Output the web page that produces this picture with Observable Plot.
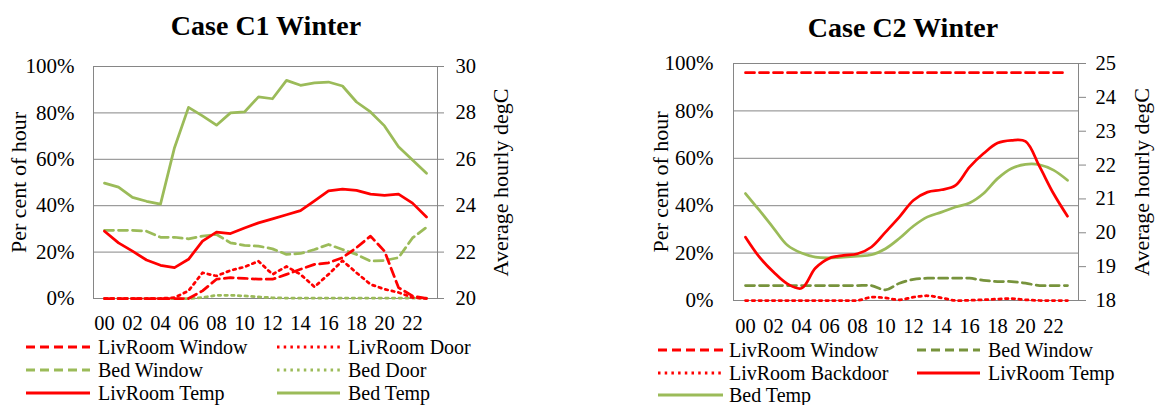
<!DOCTYPE html>
<html><head><meta charset="utf-8">
<script src="https://cdn.jsdelivr.net/npm/d3@7"></script>
<script src="https://cdn.jsdelivr.net/npm/@observablehq/plot@0.6"></script>
<style>
body{margin:0;background:#fff;}
#root{position:relative;width:1155px;height:405px;overflow:hidden;background:#fff;}
#root svg, #root svg text{font-family:"Liberation Serif","Times New Roman",serif !important;}
</style></head><body><div id="root"></div>
<script>
// ---------- data ----------
const hours = ["00","01","02","03","04","05","06","07","08","09","10","11","12","13","14","15","16","17","18","19","20","21","22","23"];
const hourTicks = ["00","02","04","06","08","10","12","14","16","18","20","22"];
const pctTicks = [0,20,40,60,80,100];
const c1TempTicks = [20,22,24,26,28,30];
const c2TempTicks = [18,19,20,21,22,23,24,25];

// Case C1 Winter (per cent of hour)
const c1LivRoomWindow = [0,0,0,0,0,0,0,3.3,8.3,9,8.7,8.3,8.3,10.4,12.6,14.7,15.4,17.6,21.9,26.9,20.4,4.7,1.1,0];
const c1LivRoomDoor   = [0,0,0,0,0,0.4,3.3,11.1,9.7,12.1,13.6,16.1,10.4,13.8,10.4,5,10.4,16.3,11.1,6.1,4,2.6,0.4,0];
const c1BedWindow     = [29.4,29.4,29.4,29,26.4,26.4,25.7,26.9,27.6,24,22.9,22.6,21.4,19,19.4,21.1,23.3,21.1,19,16.1,16.4,17.6,26.1,30.7];
const c1BedDoor       = [0,0,0,0,0,0,0,0.4,1.4,1.4,1.1,0.7,0.3,0.2,0.2,0.2,0.2,0.2,0.2,0.2,0.2,0.2,0.2,0.2];
// Case C1 Winter (degC)
const c1LivRoomTemp = [22.9,22.4,22.04,21.66,21.43,21.33,21.69,22.47,22.86,22.8,23.04,23.26,23.43,23.61,23.79,24.21,24.64,24.71,24.66,24.5,24.44,24.5,24.11,23.51];
const c1BedTemp     = [24.97,24.8,24.36,24.19,24.07,26.5,28.24,27.87,27.47,28.0,28.04,28.69,28.61,29.4,29.19,29.29,29.33,29.16,28.47,28.04,27.44,26.54,25.97,25.4];

// Case C2 Winter (per cent of hour)
const c2LivRoomWindow   = [96.1,96.1,96.1,96.1,96.1,96.1,96.1,96.1,96.1,96.1,96.1,96.1,96.1,96.1,96.1,96.1,96.1,96.1,96.1,96.1,96.1,96.1,96.1,96.1];
const c2BedWindow       = [6.3,6.3,6.3,6.3,6.3,6.3,6.3,6.3,6.3,6.3,4.5,7.3,8.9,9.4,9.4,9.4,9.4,8.5,8,8,7.3,6.3,6.3,6.3];
const c2LivRoomBackdoor = [0,0,0,0,0,0,0,0,0,1.4,1.1,0.3,1.4,2,1.1,0,0.1,0.3,0.6,0.8,0.3,0,0,0];
// Case C2 Winter (degC)
const c2LivRoomTemp = [19.87,19.28,18.84,18.49,18.36,18.96,19.25,19.33,19.38,19.58,20.02,20.47,20.96,21.2,21.27,21.4,21.94,22.34,22.65,22.73,22.7,21.96,21.16,20.49];
const c2BedTemp     = [21.16,20.66,20.14,19.63,19.4,19.28,19.26,19.28,19.31,19.35,19.53,19.84,20.2,20.47,20.61,20.76,20.88,21.16,21.6,21.9,22.02,22.01,21.85,21.55];

// ---------- styles ----------
const FONT = '"Liberation Serif", "Times New Roman", serif';
const RED = "#FF0000", GREEN = "#9BBB59", DKGREEN = "#77933C", GRID = "#868686";
const DASH = "9,5", DOT = "2.5,4.2";
const root = document.getElementById("root");

function place(el, left, top) {
  el.style.position = "absolute";
  el.style.left = left + "px";
  el.style.top = top + "px";
  root.appendChild(el);
}
function lineMark(values, stroke, dash, curve) {
  return Plot.line(values, {x: (d, i) => hours[i], y: d => d, stroke, strokeWidth: 2.75,
    strokeDasharray: dash, curve, strokeLinejoin: "round"});
}
const svgStyle = {background: "transparent", fontFamily: FONT, fontSize: "20px", color: "#000", overflow: "visible"};

function makeChart(cfg) {
  const dims = {width: cfg.W, height: cfg.H, marginLeft: cfg.mL, marginRight: cfg.mR, marginTop: cfg.mT, marginBottom: cfg.mB};
  const pct = Plot.plot({
    ...dims, style: svgStyle,
    x: {type: "point", domain: hours, padding: 0.5},
    y: {domain: [0, 100]},
    marks: [
      Plot.ruleY(pctTicks, {stroke: GRID, strokeWidth: 1}),
      Plot.frame({stroke: GRID, strokeWidth: 1}),
      Plot.axisY(pctTicks, {anchor: "left", tickSize: 0, tickPadding: cfg.yPad, tickFormat: d => d + "%", label: null, fontFamily: FONT, fontSize: 21}),
      Plot.axisX(hourTicks, {anchor: "bottom", tickSize: 0, tickPadding: cfg.xPad, label: null, fontFamily: FONT, fontSize: 20.5}),
      Plot.text(["Per cent of hour"], {text: d => d, frameAnchor: "left", textAnchor: "middle", dx: cfg.lTitleDx, rotate: -90, fontSize: 22, fontFamily: FONT}),
      ...cfg.pctLines
    ]
  });
  const temp = Plot.plot({
    ...dims, style: svgStyle,
    x: {type: "point", domain: hours, padding: 0.5, axis: null},
    y: {domain: cfg.tDomain},
    marks: [
      Plot.axisY(cfg.tTicks, {anchor: "right", tickSize: cfg.rTick, tickPadding: cfg.rPad, stroke: GRID, tickFormat: d => String(d), label: null, fontFamily: FONT, fontSize: 20.5}),
      Plot.text(["Average hourly degC"], {text: d => d, frameAnchor: "right", textAnchor: "middle", dx: cfg.rTitleDx, rotate: -90, fontSize: 22, fontFamily: FONT}),
      ...cfg.tempLines
    ]
  });
  place(pct, cfg.left, 0);
  place(temp, cfg.left, 0);
}

makeChart({
  left: 0, W: 560, H: 340, mL: 93, mR: 123, mT: 66, mB: 42,
  yPad: 19, xPad: 17, rTick: 6, rPad: 12, lTitleDx: -75, rTitleDx: 63,
  tDomain: [20, 30], tTicks: c1TempTicks,
  pctLines: [
    lineMark(c1BedDoor, GREEN, DOT, "linear"),
    lineMark(c1BedWindow, GREEN, DASH, "linear"),
    lineMark(c1LivRoomDoor, RED, DOT, "linear"),
    lineMark(c1LivRoomWindow, RED, DASH, "linear")
  ],
  tempLines: [
    lineMark(c1LivRoomTemp, RED, null, "linear"),
    lineMark(c1BedTemp, GREEN, null, "linear")
  ]
});

makeChart({
  left: 580, W: 575, H: 340, mL: 153, mR: 77, mT: 63, mB: 40,
  yPad: 20, xPad: 18, rTick: 7, rPad: 10, lTitleDx: -73, rTitleDx: 63,
  tDomain: [18, 25], tTicks: c2TempTicks,
  pctLines: [
    lineMark(c2LivRoomBackdoor, RED, DOT, "catmull-rom"),
    lineMark(c2BedWindow, DKGREEN, DASH, "catmull-rom"),
    lineMark(c2LivRoomWindow, RED, DASH, "linear")
  ],
  tempLines: [
    lineMark(c2BedTemp, GREEN, null, "catmull-rom"),
    lineMark(c2LivRoomTemp, RED, null, "catmull-rom")
  ]
});

// ---------- titles ----------
const titles = [
  {text: "Case C1 Winter", x: 266, y: 34.5},
  {text: "Case C2 Winter", x: 903, y: 36.5}
];
const head = d3.create("svg").attr("width", 1155).attr("height", 50);
head.selectAll("text").data(titles).join("text")
  .attr("x", d => d.x).attr("y", d => d.y).attr("text-anchor", "middle")
  .attr("font-family", FONT).attr("font-weight", "bold").attr("font-size", 28).attr("fill", "#000")
  .text(d => d.text);
place(head.node(), 0, 0);

// ---------- legends ----------
const legendItems = [
  {name: "LivRoom Window", color: RED, dash: DASH, x1: 26, x2: 90, tx: 98, y: 347},
  {name: "LivRoom Door", color: RED, dash: DOT, x1: 277, x2: 340, tx: 348, y: 347},
  {name: "Bed Window", color: GREEN, dash: DASH, x1: 26, x2: 90, tx: 98, y: 370},
  {name: "Bed Door", color: GREEN, dash: DOT, x1: 277, x2: 340, tx: 348, y: 370},
  {name: "LivRoom Temp", color: RED, dash: null, x1: 26, x2: 90, tx: 98, y: 393},
  {name: "Bed Temp", color: GREEN, dash: null, x1: 277, x2: 340, tx: 348, y: 393},
  {name: "LivRoom Window", color: RED, dash: DASH, x1: 658, x2: 723, tx: 729, y: 350},
  {name: "Bed Window", color: DKGREEN, dash: DASH, x1: 917, x2: 980, tx: 988, y: 350},
  {name: "LivRoom Backdoor", color: RED, dash: DOT, x1: 658, x2: 723, tx: 729, y: 373},
  {name: "LivRoom Temp", color: RED, dash: null, x1: 917, x2: 980, tx: 988, y: 373},
  {name: "Bed Temp", color: GREEN, dash: null, x1: 658, x2: 723, tx: 729, y: 395}
];
const leg = d3.create("svg").attr("width", 1155).attr("height", 85);
const off = 320;
const g = leg.selectAll("g").data(legendItems).join("g");
g.append("line").attr("x1", d => d.x1).attr("x2", d => d.x2).attr("y1", d => d.y - off).attr("y2", d => d.y - off)
  .attr("stroke", d => d.color).attr("stroke-width", 3).attr("stroke-dasharray", d => d.dash);
g.append("text").attr("x", d => d.tx).attr("y", d => d.y - off + 6.7)
  .attr("font-family", FONT).attr("font-size", 20).attr("fill", "#000").text(d => d.name);
place(leg.node(), 0, off);
</script></body></html>
